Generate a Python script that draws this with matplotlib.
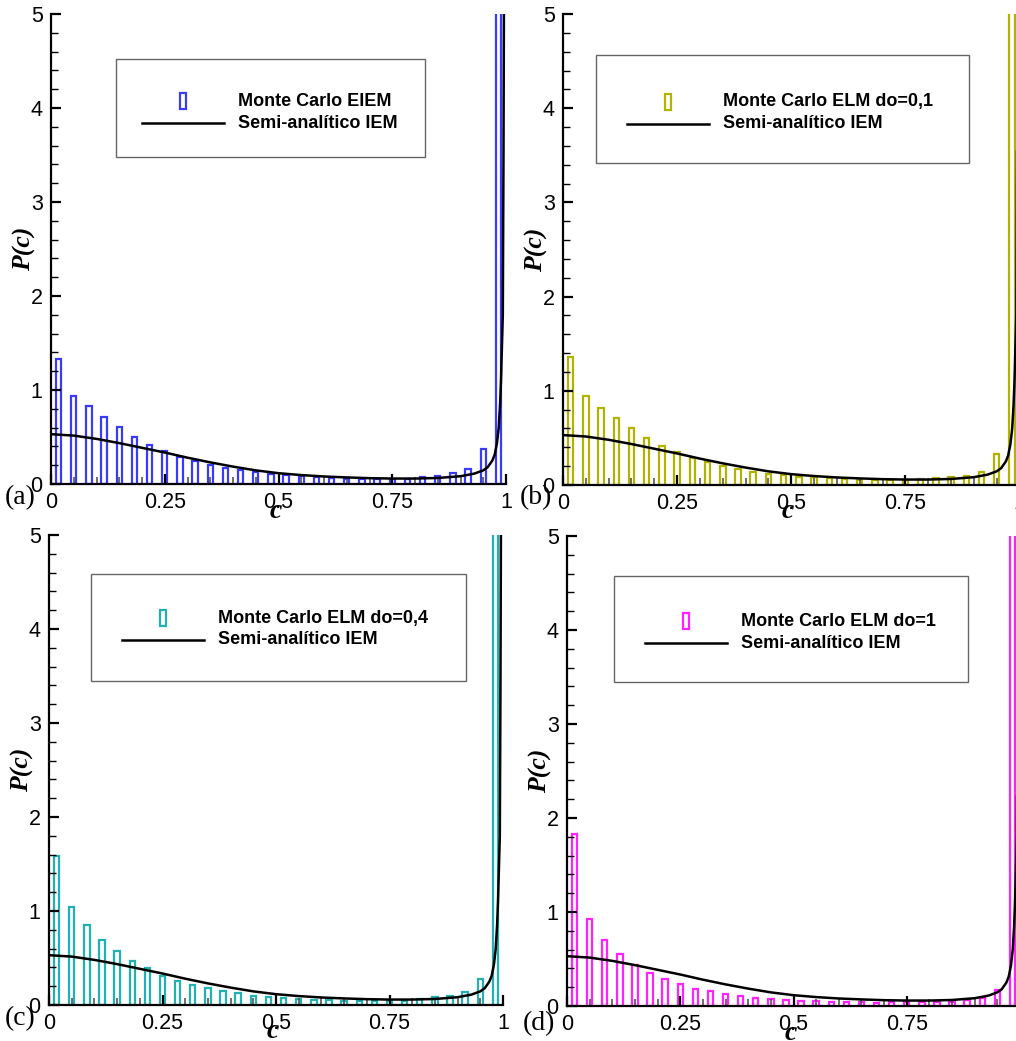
import matplotlib
matplotlib.use("Agg")
import matplotlib.pyplot as plt
import numpy as np
from matplotlib.patches import Rectangle
from matplotlib.lines import Line2D

# histogram bins: 30 bins of width 1/30 on [0, 1]
bin_centers = (np.arange(30) + 0.5) / 30

# Monte Carlo histograms (last bin runs off the top of the axes)
p_eiem = [1.33, 0.94, 0.83, 0.71, 0.61, 0.50, 0.42, 0.35, 0.29, 0.24,
          0.20, 0.17, 0.15, 0.125, 0.107, 0.094, 0.084, 0.072, 0.064, 0.057,
          0.054, 0.05, 0.05, 0.055, 0.072, 0.09, 0.12, 0.155, 0.375, 10.0]
p_elm_01 = [1.36, 0.95, 0.82, 0.71, 0.60, 0.50, 0.41, 0.35, 0.29, 0.24,
            0.20, 0.17, 0.14, 0.12, 0.105, 0.09, 0.08, 0.07, 0.062, 0.055,
            0.05, 0.05, 0.05, 0.065, 0.07, 0.09, 0.10, 0.14, 0.33, 10.0]
p_elm_04 = [1.59, 1.04, 0.85, 0.69, 0.575, 0.47, 0.39, 0.31, 0.26, 0.21,
            0.18, 0.15, 0.125, 0.10, 0.08, 0.07, 0.06, 0.054, 0.05, 0.046,
            0.043, 0.043, 0.04, 0.043, 0.06, 0.08, 0.10, 0.135, 0.275, 10.0]
p_elm_1 = [1.83, 0.93, 0.70, 0.55, 0.435, 0.35, 0.29, 0.23, 0.18, 0.157,
           0.13, 0.107, 0.082, 0.07, 0.06, 0.057, 0.054, 0.046, 0.043, 0.04,
           0.036, 0.04, 0.04, 0.043, 0.046, 0.046, 0.064, 0.09, 0.175, 10.0]

# semi-analytical IEM pdf
c_iem = [0, 0.05, 0.1, 0.15, 0.2, 0.25, 0.3, 0.35, 0.4, 0.45, 0.5, 0.55,
         0.6, 0.65, 0.7, 0.75, 0.8, 0.85, 0.9, 0.93, 0.95, 0.96, 0.97, 0.975,
         0.98, 0.984, 0.987, 0.989, 0.991, 0.993, 0.9945, 0.996]
p_iem = [0.53, 0.515, 0.48, 0.435, 0.385, 0.335, 0.28, 0.23, 0.185, 0.145,
         0.115, 0.095, 0.08, 0.07, 0.062, 0.058, 0.058, 0.064, 0.083, 0.11,
         0.145, 0.18, 0.25, 0.31, 0.43, 0.6, 0.85, 1.1, 1.45, 1.8, 3.5, 6.0]

x_ticks = [0, 0.25, 0.5, 0.75, 1]
x_tick_labels = ["0", "0.25", "0.5", "0.75", "1"]
y_ticks = [0, 1, 2, 3, 4, 5]
y_tick_labels = ["0", "1", "2", "3", "4", "5"]

iem_label = "Semi-analítico IEM"

W, H = 1016, 1041
fig = plt.figure(figsize=(W / 100, H / 100), dpi=100)


def fx(x):
    return x / W


def fy(y):
    return 1 - y / H


def draw_panel(rect, heights, color, mc_label, letter, letter_xy, box, sym_xy):
    left, right, top, bottom = rect
    ax = fig.add_axes([fx(left), fy(bottom), (right - left) / W, (bottom - top) / H])
    ax.bar(bin_centers, heights, width=0.012, fill=False, edgecolor=color, linewidth=1.6)
    ax.plot(c_iem, p_iem, color="black", linewidth=1.8)
    ax.set_xlim(0, 1)
    ax.set_ylim(0, 5)

    for s in ["top", "right"]:
        ax.spines[s].set_visible(False)
    for s in ["left", "bottom"]:
        ax.spines[s].set_linewidth(1.6)

    ax.set_xticks(x_ticks)
    ax.set_xticklabels(x_tick_labels)
    ax.set_yticks(y_ticks)
    ax.set_yticklabels(y_tick_labels)
    ax.set_xticks(np.arange(0, 1.001, 0.05), minor=True)
    ax.set_yticks(np.arange(0, 5.001, 0.2), minor=True)
    ax.tick_params(which="major", direction="in", length=7, width=1.6,
                   labelsize=15.5, pad=6)
    ax.tick_params(which="minor", axis="y", direction="in", length=5, width=1)
    ax.tick_params(which="minor", axis="x", direction="in", length=5, width=1.2,
                   color="#555555")
    for t in ax.get_xticklabels() + ax.get_yticklabels():
        t.set_fontfamily("Liberation Sans")

    # axis titles
    fig.text(fx(left - 27), fy((top + bottom) / 2), "P(c)", fontsize=18.5,
             family="Liberation Serif", weight="bold", style="italic",
             rotation=90, ha="center", va="center")
    fig.text(fx(left + (right - left) * 0.5 - 3), fy(bottom + 27), "c", fontsize=20,
             family="Liberation Serif", weight="bold", style="italic",
             ha="center", va="center")

    fig.text(fx(letter_xy[0]), fy(letter_xy[1]), letter, fontsize=20,
             family="Liberation Serif", ha="center", va="center")

    # legend box
    bx0, bx1, by0, by1 = box
    fig.add_artist(Rectangle((fx(bx0), fy(by1)), (bx1 - bx0) / W, (by1 - by0) / H,
                             transform=fig.transFigure, fill=True, facecolor="white",
                             edgecolor="#666666", linewidth=1.0))
    sx, sy = sym_xy
    fig.add_artist(Rectangle((fx(sx - 3), fy(sy + 8)), 6 / W, 16 / H,
                             transform=fig.transFigure, fill=False,
                             edgecolor=color, linewidth=1.6))
    fig.add_artist(Line2D([fx(sx - 41), fx(sx + 41)], [fy(sy + 22), fy(sy + 22)],
                          transform=fig.transFigure, color="black", linewidth=1.8))
    fig.text(fx(sx + 55), fy(sy), mc_label, fontsize=13, family="Liberation Sans",
             weight="bold", ha="left", va="center")
    fig.text(fx(sx + 55), fy(sy + 22), iem_label, fontsize=13,
             family="Liberation Sans", weight="bold", ha="left", va="center")
    return ax


draw_panel((51, 506, 14, 484), p_eiem, "#3a3aff", "Monte Carlo EIEM",
           "(a)", (20, 498), (116, 425, 59, 157), (183, 101))
draw_panel((563, 1019.5, 14, 485), p_elm_01, "#b2b200", "Monte Carlo ELM do=0,1",
           "(b)", (536, 498), (596, 969, 55, 163), (668, 102))
draw_panel((49, 503, 535, 1005), p_elm_04, "#22b0b0", "Monte Carlo ELM do=0,4",
           "(c)", (20, 1019), (91, 466, 574, 681), (163, 618))
draw_panel((567, 1020, 536, 1006), p_elm_1, "#ff22ff", "Monte Carlo ELM do=1",
           "(d)", (539, 1024), (614, 968, 576, 682), (686, 621))

fig.savefig("out.png", dpi=100)
